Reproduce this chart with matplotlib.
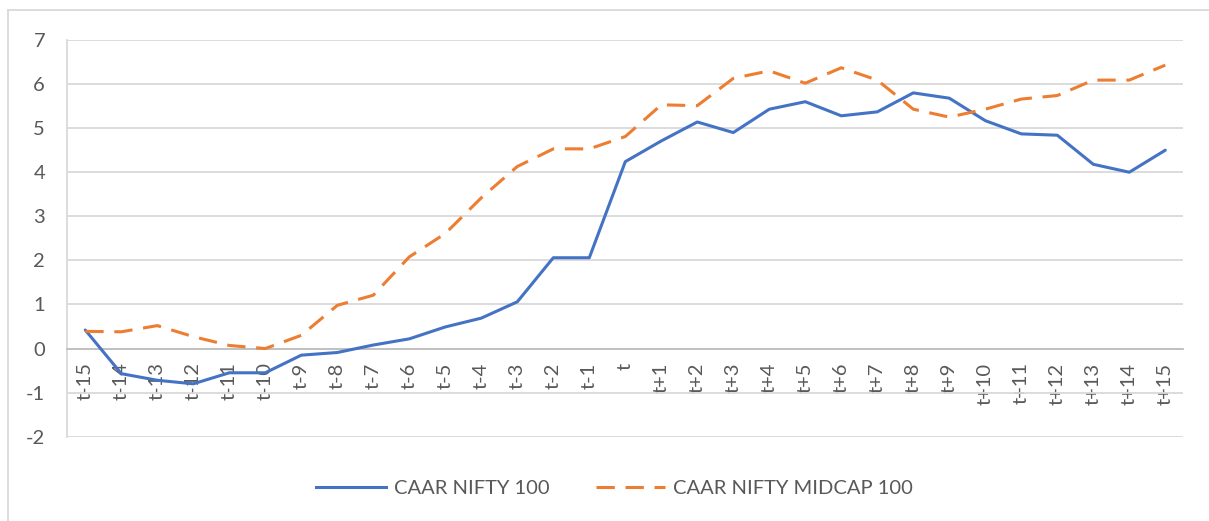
import matplotlib
matplotlib.use("Agg")
import matplotlib.pyplot as plt
from matplotlib.lines import Line2D

categories = ["t-15", "t-14", "t-13", "t-12", "t-11", "t-10", "t-9", "t-8", "t-7", "t-6",
              "t-5", "t-4", "t-3", "t-2", "t-1", "t", "t+1", "t+2", "t+3", "t+4", "t+5",
              "t+6", "t+7", "t+8", "t+9", "t+10", "t+11", "t+12", "t+13", "t+14", "t+15"]
caar_nifty100 = [0.42, -0.57, -0.72, -0.80, -0.55, -0.55, -0.15, -0.09, 0.08, 0.22,
                 0.49, 0.69, 1.06, 2.06, 2.06, 4.24, 4.71, 5.14, 4.90, 5.43, 5.60,
                 5.28, 5.37, 5.80, 5.68, 5.17, 4.87, 4.84, 4.18, 4.00, 4.50]
caar_midcap100 = [0.39, 0.38, 0.52, 0.27, 0.07, 0.00, 0.30, 0.98, 1.21, 2.08,
                  2.61, 3.42, 4.13, 4.53, 4.53, 4.81, 5.53, 5.51, 6.13, 6.30, 6.02,
                  6.37, 6.09, 5.43, 5.25, 5.43, 5.66, 5.74, 6.09, 6.09, 6.43]
y_ticks = [-2, -1, 0, 1, 2, 3, 4, 5, 6, 7]

plt.rcParams['font.family'] = ['Lato', 'DejaVu Sans']
plt.rcParams['axes.unicode_minus'] = False
FS = 14.5
W, H = 1209, 521
fig = plt.figure(figsize=(W / 100, H / 100), dpi=100)
ax = fig.add_axes([67.3 / W, 1 - 436.7 / H, (1183.3 - 67.3) / W, (436.7 - 40) / H])

x = list(range(len(categories)))
blue = "#4472C4"
orange = "#ED7D31"
ax.plot(x, caar_nifty100, color=blue, lw=2.2, solid_capstyle='round', zorder=3)
ax.plot(x, caar_midcap100, color=orange, lw=2.2, dashes=(6, 3.5), zorder=3)

ax.set_xlim(-0.5, len(categories) - 0.5)
ax.set_ylim(-2, 7)
ax.set_yticks(y_ticks)
ax.grid(axis='y', color='#d9d9d9', lw=1.3)
ax.set_axisbelow(True)

for s in ['top', 'right']:
    ax.spines[s].set_visible(False)
ax.spines['left'].set_color('#d9d9d9')
ax.spines['left'].set_linewidth(1.3)
ax.spines['bottom'].set_position(('data', 0))
ax.spines['bottom'].set_color('#bfbfbf')
ax.spines['bottom'].set_linewidth(1.3)

ax.set_xticks(x)
ax.set_xticklabels(categories, rotation=90, va='top', ha='center')
ax.tick_params(axis='x', length=0, pad=10, labelsize=FS, labelcolor='#595959')
ax.tick_params(axis='y', length=0, pad=16, labelsize=FS, labelcolor='#595959')

# chart area border
fig.add_artist(Line2D([8 / W, 1.0], [1 - 10 / H, 1 - 10 / H], color='#d9d9d9', lw=1.3,
                      transform=fig.transFigure))
fig.add_artist(Line2D([8 / W, 8 / W], [1 - 10 / H, 0.0], color='#d9d9d9', lw=1.3,
                      transform=fig.transFigure))

handles = [Line2D([], [], color=blue, lw=2.2),
           Line2D([], [], color=orange, lw=2.2, dashes=(6, 3.5))]
fig.legend(handles, ["CAAR NIFTY 100", "CAAR NIFTY MIDCAP 100"], loc='center',
           bbox_to_anchor=(614.5 / W, 1 - 488 / H), ncol=2, frameon=False,
           fontsize=FS, labelcolor='#595959', handlelength=3.45, columnspacing=2.3,
           handletextpad=0.4)

fig.savefig("out.png", dpi=100)
